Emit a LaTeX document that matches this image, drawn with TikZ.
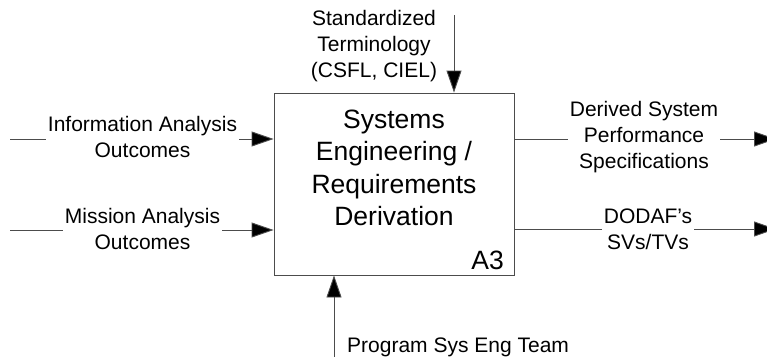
\documentclass[tikz,border=0pt]{standalone}
\usepackage{fontspec}
\setmainfont{Liberation Sans}
\usetikzlibrary{arrows.meta}
\begin{document}
\begin{tikzpicture}[x=1pt,y=-1pt,
  conn/.style={draw=black!70,line width=0.9pt},
  arr/.style={conn,-{Triangle[length=22pt,width=15pt,fill=black]}},
  lbl/.style={fill=white,inner xsep=2pt,inner ysep=0pt,align=center,font=\fontsize{21}{26}\selectfont},
  procbox/.style={draw=black!70,line width=0.9pt,minimum width=240pt,minimum height=182pt,inner sep=0pt},
  title/.style={align=center,font=\fontsize{26.5}{32.5}\selectfont},
  code/.style={font=\fontsize{26.5}{30}\selectfont,inner sep=0pt}]
\useasboundingbox (0,0) rectangle (767,356);
% process box
\node[procbox] (box) at (394,184) {};
\node[title] (t) at (394,168) {Systems\\Engineering /\\Requirements\\Derivation};
\node[code,anchor=south east] (a3) at (504,270) {A3};
% free ends
\coordinate (in1) at (10,139);
\coordinate (in2) at (10,230);
\coordinate (out1) at (776,139);
\coordinate (out2) at (776,229);
\coordinate (ctl) at (454,15);
\coordinate (mech) at (334,360);
% connectors
\draw[arr] (in1) -- (box.west |- in1);
\draw[arr] (in2) -- (box.west |- in2);
\draw[arr] (box.east |- out1) -- (out1);
\draw[arr] (box.east |- out2) -- (out2);
\draw[arr] (ctl) -- (ctl |- box.north);
\draw[arr] (mech) -- (mech |- box.south);
% labels
\node[lbl] (l1) at (142.5,137) {Information Analysis\\Outcomes};
\node[lbl] (l2) at (142.5,229) {Mission Analysis\\Outcomes};
\node[lbl] (r1) at (644,137) {Derived System\\Performance\\Specifications};
\node[lbl] (r2) at (648,229.5) {DODAF's\\SVs/TVs};
\node[lbl,fill=none] (c1) at (374,46) {Standardized\\Terminology\\(CSFL, CIEL)};
\node[lbl,fill=none,anchor=west] (m1) at (345,347) {Program Sys Eng Team};
\end{tikzpicture}
\end{document}
